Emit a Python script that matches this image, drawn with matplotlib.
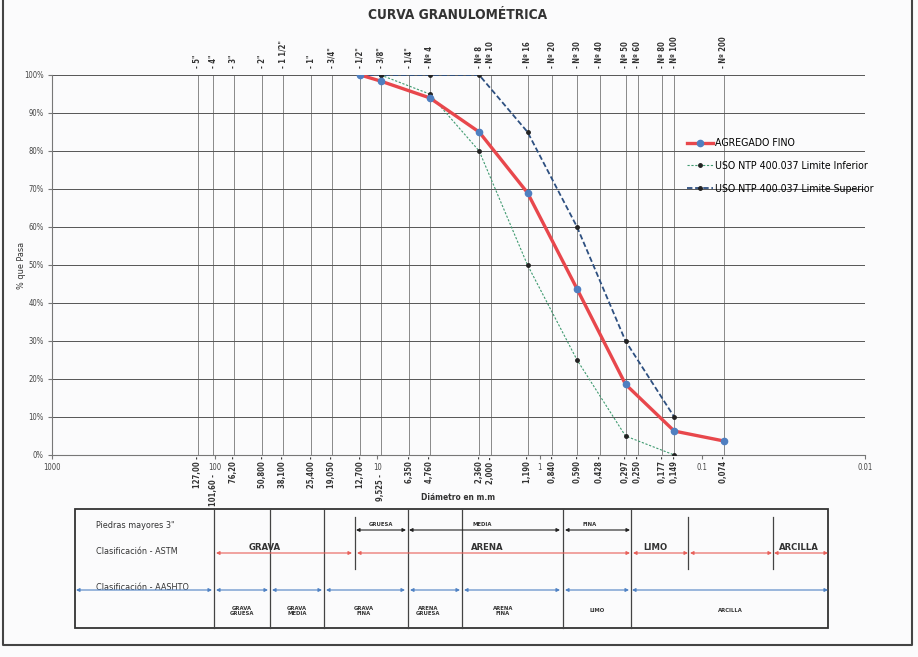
import numpy as np
import matplotlib
matplotlib.use("Agg")
from matplotlib import pyplot as plt
from matplotlib.ticker import NullLocator

plt.rcParams['font.family'] = ['DejaVu Sans']
plt.rcParams['font.stretch'] = 'condensed'

# tamices: abertura (mm) y nombre
sieve_mm = [127.0, 101.6, 76.2, 50.8, 38.1, 25.4, 19.05, 12.7, 9.525, 6.35, 4.76,
            2.36, 2.0, 1.19, 0.84, 0.59, 0.428, 0.297, 0.25, 0.177, 0.149, 0.074]
sieve_names = ['5"', '4"', '3"', '2"', '1 1/2"', '1"', '3/4"', '1/2"', '3/8"', '1/4"', 'Nº 4',
               'Nº 8', 'Nº 10', 'Nº 16', 'Nº 20', 'Nº 30', 'Nº 40', 'Nº 50', 'Nº 60',
               'Nº 80', 'Nº 100', 'Nº 200']
sieve_labels = ['127,00', '101,60', '76,20', '50,800', '38,100', '25,400', '19,050',
                '12,700', '9,525', '6,350', '4,760', '2,360', '2,000', '1,190', '0,840',
                '0,590', '0,428', '0,297', '0,250', '0,177', '0,149', '0,074']
low_labels = ['101,60', '9,525']

# agregado fino
fino_mm = [12.7, 9.525, 4.76, 2.36, 1.19, 0.59, 0.297, 0.149, 0.074]
fino_pct = [100, 98.4, 94.0, 85.0, 69.0, 43.7, 18.6, 6.3, 3.7]

# limites NTP 400.037
lim_mm = [9.525, 4.76, 2.36, 1.19, 0.59, 0.297, 0.149]
lim_inf = [100, 95, 80, 50, 25, 5, 0]
lim_sup = [100, 100, 100, 85, 60, 30, 10]
sup_mm = [12.7] + lim_mm
sup_pct = [100] + lim_sup

x_ticks = [1000, 100, 10, 1, 0.1, 0.01]
x_tick_labels = ['1000', '100', '10', '1', '0.1', '0.01']


def main():
    W, H = 918, 657
    fig = plt.figure(figsize=(W / 100, H / 100), dpi=100)
    fig.patch.set_facecolor('#fbfbfc')

    # hoja (coordenadas en pixeles) para marco y tabla
    page = fig.add_axes([0, 0, 1, 1])
    page.set_xlim(0, W)
    page.set_ylim(H, 0)
    page.axis('off')

    # marco del escaneo
    page.plot([3, 3, 912, 912], [0, 645, 645, 0], color='#444', lw=1.5)

    page.text(458, 15, 'CURVA GRANULOMÉTRICA', ha='center', va='center',
              fontsize=9.8, weight='bold', color='#333')
    page.text(458, 497, 'Diámetro en m.m', ha='center', va='center',
              fontsize=6, weight='bold', color='#333')
    page.text(22, 265, '% que Pasa', ha='center', va='center', rotation=90,
              fontsize=6.5, color='#333')

    # ---- grafico principal ----
    ax = fig.add_axes([52 / W, (H - 455) / H, (865 - 52) / W, (455 - 75) / H])
    ax.set_facecolor('none')
    ax.set_xscale('log')
    ax.set_xlim(1000, 0.01)
    ax.set_ylim(0, 100)
    ax.set_yticks(range(0, 101, 10))
    ax.set_yticklabels([f'{v}%' for v in range(0, 101, 10)])
    ax.set_xticks(x_ticks)
    ax.set_xticklabels(x_tick_labels)
    ax.xaxis.set_minor_locator(NullLocator())
    ax.tick_params(labelsize=5.5, length=3, color='#777', labelcolor='#444', pad=3)
    ax.grid(axis='y', color='#555', lw=0.7)
    for s in ['top', 'right']:
        ax.spines[s].set_visible(False)
    for s in ['left', 'bottom']:
        ax.spines[s].set_color('#777')
        ax.spines[s].set_linewidth(0.8)

    for d in sieve_mm:
        ax.axvline(d, color='#777', lw=0.6, zorder=1)

    tr = ax.get_xaxis_transform()
    for d, name in zip(sieve_mm, sieve_names):
        ax.text(d, 1.018, '- ' + name, transform=tr, rotation=90, ha='center',
                va='bottom', fontsize=5.5, weight='bold', color='#333')
    for d, lab in zip(sieve_mm, sieve_labels):
        y = -0.05 if lab in low_labels else -0.003
        ax.text(d, y, lab + ' -', transform=tr, rotation=90, ha='center',
                va='top', fontsize=5.5, weight='bold', color='#333')

    ax.plot(fino_mm, fino_pct, color='#e8474c', lw=2.4, marker='o', ms=4.5,
            mfc='#4f7fc0', mec='#4f7fc0', label='AGREGADO FINO', zorder=4)
    ax.plot(lim_mm, lim_inf, color='#3f9a70', lw=0.8, ls=(0, (2, 1.5)), marker='o',
            ms=2.5, mfc='#222', mec='#222', label='USO NTP 400.037 Limite Inferior', zorder=3)
    ax.plot(sup_mm, sup_pct, color='#2d4f80', lw=1.3, ls=(0, (3, 1.5)), marker='o',
            ms=2.5, mfc='#222', mec='#222', label='USO NTP 400.037 Limite Superior', zorder=3)

    ax.legend(loc='upper left', bbox_to_anchor=(682 / W, (H - 133) / H),
              bbox_transform=fig.transFigure, frameon=False, fontsize=7.6,
              handlelength=2.4, handletextpad=0.2, labelspacing=1.2, borderpad=0)

    # ---- tabla de clasificacion ----
    page.add_patch(plt.Rectangle((75, 509), 828 - 75, 628 - 509, fill=False,
                                 ec='#333', lw=1.3))
    for x in [214, 270, 324, 408, 462, 563, 631]:
        page.plot([x, x], [509, 628], color='#444', lw=0.9)
    for x in [355, 688, 773]:
        page.plot([x, x], [517, 569], color='#444', lw=0.9)

    def arrow(x0, x1, y, color, lw=0.8):
        page.annotate('', xy=(x1, y), xytext=(x0, y),
                      arrowprops=dict(arrowstyle='<|-|>', color=color, lw=lw,
                                      mutation_scale=5, shrinkA=0, shrinkB=0))

    small = dict(ha='center', va='center', fontsize=4.2, weight='bold', color='#333')
    row = dict(ha='left', va='center', fontsize=6.5, color='#333')

    page.text(96, 525, 'Piedras mayores 3"', **row)
    page.text(96, 552, 'Clasificación - ASTM', **row)
    page.text(96, 587, 'Clasificación - AASHTO', **row)

    # ASTM arena subdivisiones
    for x0, x1, lab in [(356, 406, 'GRUESA'), (409, 560, 'MEDIA'), (565, 630, 'FINA')]:
        arrow(x0, x1, 530, '#222')
        page.text(x0 + 25 if lab != 'MEDIA' else 482, 525, lab, **small)

    red = '#e8605a'
    for x0, x1 in [(216, 352), (357, 630), (633, 688), (690, 772), (774, 828)]:
        arrow(x0, x1, 553, red)
    big = dict(ha='center', va='center', fontsize=6.8, weight='bold', color='#333')
    page.text(265, 547, 'GRAVA', **big)
    page.text(487, 547, 'ARENA', **big)
    page.text(655, 548, 'LIMO', **big)
    page.text(799, 547, 'ARCILLA', **big)

    blue = '#4f82c4'
    for x0, x1 in [(76, 212), (216, 268), (272, 322), (326, 405), (410, 460),
                   (464, 560), (565, 629), (632, 828)]:
        arrow(x0, x1, 590, blue)

    for x, lab in [(242, 'GRAVA\nGRUESA'), (297, 'GRAVA\nMEDIA'), (364, 'GRAVA\nFINA'),
                   (428, 'ARENA\nGRUESA'), (503, 'ARENA\nFINA'), (597, 'LIMO'),
                   (730, 'ARCILLA')]:
        page.text(x, 611, lab, linespacing=1.1, **small)

    fig.savefig('out.png', dpi=100, facecolor=fig.get_facecolor())


if __name__ == "__main__":
    main()
